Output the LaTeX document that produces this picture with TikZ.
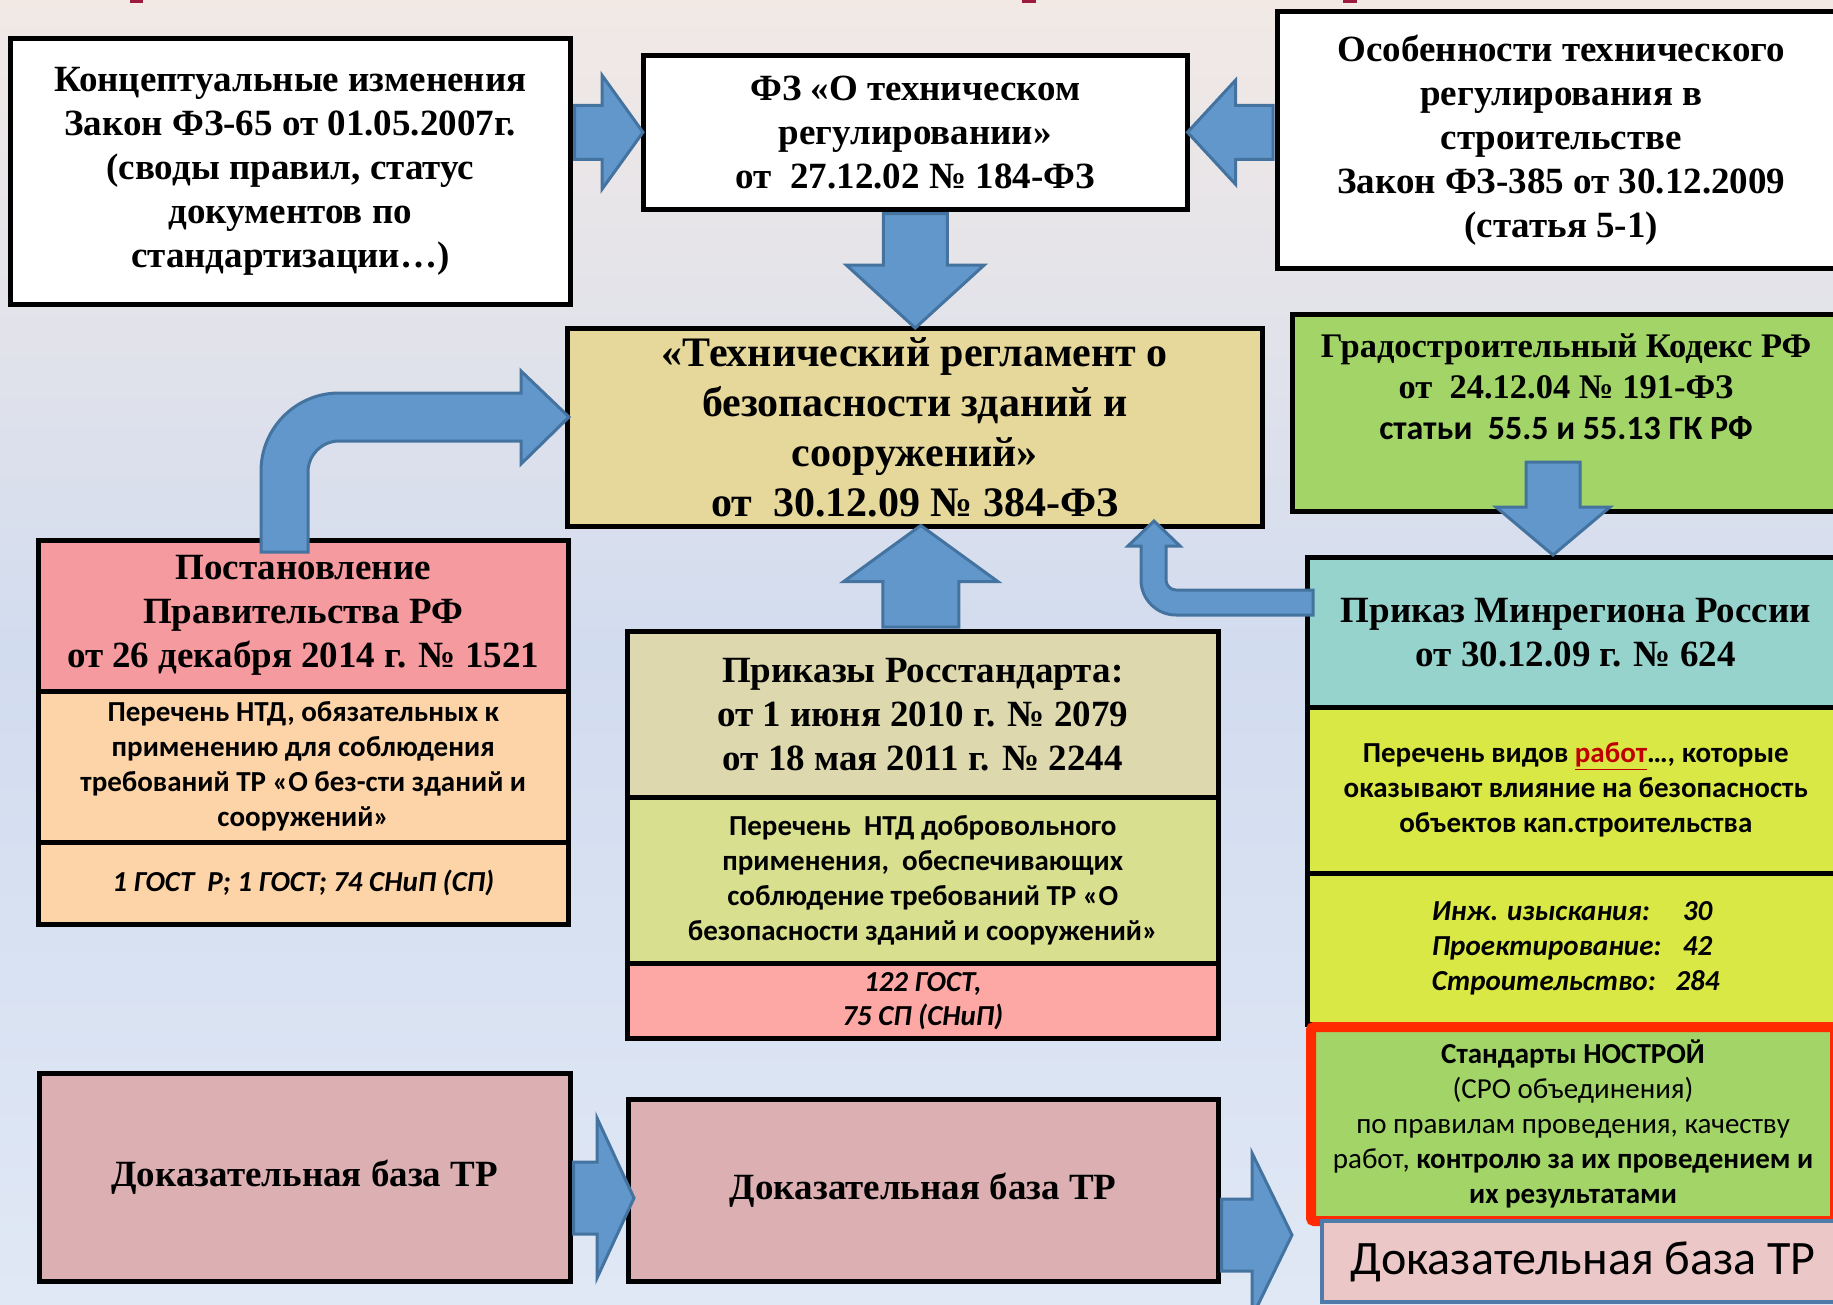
\documentclass[tikz,border=0pt]{standalone}
\usepackage{fontspec}
\setmainfont{Liberation Serif}
\newfontfamily\carl{Carlito}
\usetikzlibrary{calc}
\definecolor{bgtop}{HTML}{F2E9E5}
\definecolor{bgmid}{HTML}{D2DCEF}
\definecolor{bgbot}{HTML}{E0E8F5}
\definecolor{tan}{HTML}{E6D89B}
\definecolor{grn}{HTML}{A2D468}
\definecolor{teal}{HTML}{96D3CC}
\definecolor{yel}{HTML}{D9E845}
\definecolor{pinkG}{HTML}{F59A9E}
\definecolor{peach}{HTML}{FDD4A8}
\definecolor{beige}{HTML}{DED8AE}
\definecolor{lgreen}{HTML}{D8DF8F}
\definecolor{salmon}{HTML}{FEA8A5}
\definecolor{dusty}{HTML}{DCB0B2}
\definecolor{kpink}{HTML}{EBC7C7}
\definecolor{kblue}{HTML}{4F7AAA}
\definecolor{arrfill}{HTML}{6197CB}
\definecolor{arrdraw}{HTML}{44739F}
\definecolor{nred}{HTML}{FF2A00}
\definecolor{rabred}{HTML}{C00000}
\definecolor{titlered}{HTML}{9B1B3F}
\newcommand\blockarr[5]{%
  \coordinate (bam) at ($(#2)!#5pt!(#1)$);
  \draw[blockarrow] ($(#1)!#3pt!90:(#2)$) -- ($(bam)!#3pt!90:(#2)$) -- ($(bam)!#4pt!90:(#2)$) -- (#2)
    -- ($(bam)!#4pt!-90:(#2)$) -- ($(bam)!#3pt!-90:(#2)$) -- ($(#1)!#3pt!-90:(#2)$) -- cycle;}
\begin{document}
\begin{tikzpicture}[x=1pt,y=-1pt,
  box/.style={draw=black,line width=4.5pt,inner sep=0pt,anchor=north west,align=center},
  serifbig/.style={font=\fontsize{37}{44}\selectfont\bfseries},
  serifmain/.style={font=\fontsize{42}{50}\selectfont\bfseries},
  calb/.style={font=\carl\fontsize{29}{35}\selectfont\bfseries},
  calbi/.style={font=\carl\fontsize{29}{34}\selectfont\bfseries\itshape},
  calr/.style={font=\carl\fontsize{29}{35}\selectfont},
  blockarrow/.style={fill=arrfill,draw=arrdraw,line width=3pt,line join=miter}]
\useasboundingbox (0,0) rectangle (1833,1304);
\clip (0,0) rectangle (1833,1304);
\shade[top color=bgtop,bottom color=bgbot,middle color=bgmid] (0,0) rectangle (1833,1304);
% title fragments
\fill[titlered] (130,0) rectangle (143,2.5);
\fill[titlered] (1022,0) rectangle (1036,2.5);
\fill[titlered] (1343,0) rectangle (1357,2.5);

% top row
\node[box,fill=white,serifbig,minimum width=560pt,minimum height=266pt] (A) at (8,36)
  {Концептуальные изменения\\Закон ФЗ-65 от 01.05.2007г.\\(своды правил, статус\\документов по\\стандартизации…)};
\node[box,fill=white,serifbig,minimum width=544pt,minimum height=154pt] (B) at (641,53)
  {ФЗ «О техническом\\регулировании»\\от~ 27.12.02 № 184-ФЗ};
\node[box,fill=white,serifbig,minimum width=568pt,minimum height=257pt] (C) at (1275,9)
  {Особенности технического\\регулирования в\\строительстве\\Закон ФЗ-385 от 30.12.2009\\(статья 5-1)};

% main box
\node[box,fill=tan,serifmain,minimum width=695pt,minimum height=198pt] (D) at (565,326)
  {«Технический регламент о\\безопасности зданий и\\сооружений»\\от~ 30.12.09 № 384-ФЗ};

% right column
\node[box,fill=grn,minimum width=552pt,minimum height=197pt] (E) at (1290,312) {};
\node[align=center,font=\fontsize{34.5}{41}\selectfont\bfseries] (Et) at (1566,387)
  {Градостроительный Кодекс РФ\\от~ 24.12.04 № 191-ФЗ\\{\carl\fontsize{34}{41}\selectfont\bfseries статьи~ 55.5 и 55.13 ГК РФ}};
\node[box,fill=teal,serifbig,minimum width=537pt,minimum height=150pt] (F) at (1305,555)
  {Приказ Минрегиона России\\от 30.12.09 г. № 624};
\node[box,fill=yel,calb,minimum width=537pt,minimum height=166pt] (F1) at (1305,705)
  {Перечень видов \textcolor{rabred}{\underline{работ}}…, которые\\оказывают влияние на безопасность\\объектов кап.строительства};
\node[box,fill=yel,minimum width=537pt,minimum height=151pt] (F2) at (1305,871)
  {\carl\fontsize{29}{35}\selectfont\bfseries\itshape
   \begin{tabular}{@{}l@{\hspace{14pt}}c@{}}
   Инж. изыскания: & 30\\
   Проектирование: & 42\\
   Строительство: & 284
   \end{tabular}};
\node[box,draw=nred,line width=10pt,rounded corners=3pt,fill=grn,calr,minimum width=524pt,minimum height=194pt] (N) at (1306,1022)
  {{\bfseries Стандарты НОСТРОЙ}\\(СРО объединения)\\по правилам проведения, качеству\\работ, {\bfseries контролю за их проведением и}\\{\bfseries их результатами}};
\node[box,draw=kblue,line width=4pt,fill=kpink,font=\carl\fontsize{48}{54}\selectfont,minimum width=522pt,minimum height=81pt] (K) at (1320,1219)
  {Доказательная база ТР};

% left column
\node[box,fill=pinkG,serifbig,minimum width=530pt,minimum height=151pt] (G0) at (36,538)
  {Постановление\\Правительства РФ\\от 26 декабря 2014 г. № 1521};
\node[box,fill=peach,calb,minimum width=530pt,minimum height=151pt] (G1) at (36,689)
  {Перечень НТД, обязательных к\\применению для соблюдения\\требований ТР «О без-сти зданий и\\сооружений»};
\node[box,fill=peach,calbi,minimum width=530pt,minimum height=82pt] (G2) at (36,840)
  {1 ГОСТ~~Р; 1 ГОСТ; 74 СНиП (СП)};

% middle column
\node[box,fill=beige,serifbig,minimum width=591pt,minimum height=166pt] (H0) at (625,629)
  {Приказы Росстандарта:\\от 1 июня 2010 г. № 2079\\от 18 мая 2011 г. № 2244};
\node[box,fill=lgreen,calb,minimum width=591pt,minimum height=166pt] (H1) at (625,795)
  {Перечень~ НТД добровольного\\применения,~ обеспечивающих\\соблюдение требований ТР «О\\безопасности зданий и сооружений»};
\node[box,fill=salmon,calbi,minimum width=591pt,minimum height=75pt] (H2) at (625,961)
  {122 ГОСТ,\\75 СП (СНиП)};

% bottom row
\node[box,fill=dusty,serifbig,minimum width=531pt,minimum height=208pt] (I) at (37,1071)
  {Доказательная база ТР};
\node[box,fill=dusty,serifbig,minimum width=590pt,minimum height=182pt] (J) at (626,1097)
  {Доказательная база ТР};

% straight block arrows
\coordinate (abS) at ($(A.east |- B.west)+(2,0)$);
\coordinate (abE) at ($(B.west)+(2,0)$);
\blockarr{abS}{abE}{27}{57}{41}
\coordinate (cbS) at ($(C.west |- B.east)+(-2,0)$);
\coordinate (cbE) at ($(B.east)+(-2,0)$);
\blockarr{cbS}{cbE}{27}{52}{48}
\coordinate (bdS) at ($(B.south)+(0,2)$);
\coordinate (bdE) at ($(B.south |- D.north)+(0,2)$);
\blockarr{bdS}{bdE}{32}{69}{63}
\coordinate (hdS) at ($(H0.north)+(-2,-2)$);
\coordinate (hdE) at ($(H0.north |- D.south)+(-2,-3)$);
\blockarr{hdS}{hdE}{38}{77}{56}
\coordinate (efS) at (1553,462);
\coordinate (efE) at (efS |- F.north);
\blockarr{efS}{efE}{27}{57}{48}
\coordinate (ijS) at ($(I.east |- 0,1198)+(1,0)$);
\coordinate (ijE) at ($(J.west |- 0,1198)+(8,0)$);
\blockarr{ijS}{ijE}{36}{80}{37}
\coordinate (jkS) at ($(J.east |- 0,1235)+(1,0)$);
\coordinate (jkE) at ($(K.west |- 0,1235)+(-28,0)$);
\blockarr{jkS}{jkE}{36}{82}{40}

% bent arrow G -> D
\coordinate (gdS) at (284.5,552);
\draw[blockarrow] (gdS) ++(-23.5,0) -- ++(0,-81)
  .. controls +(0,-43) and +(-43,0) .. ++(78,-78)
  -- ++(182,0) -- ++(0,-22) -- ++(48,46) -- ++(-48,47) -- ++(0,-23) -- ++(-182,0)
  .. controls +(-17,0) and +(0,-17) .. ++(-31,31)
  -- ++(0,80) -- cycle;

% bent arrow F -> D
\coordinate (fdS) at ($(F.west |- 0,602.5)+(8,0)$);
\draw[blockarrow] (fdS) ++(0,-12.5) -- ++(-137,0)
  .. controls +(-5.5,0) and +(0,5.5) .. ++(-10,-10)
  -- ++(0,-34) -- ++(14,0) -- ++(-26,-25) -- ++(-26,25) -- ++(13,0) -- ++(0,34)
  .. controls +(0,19.3) and +(-19.3,0) .. ++(35,35)
  -- ++(137,0) -- cycle;
\end{tikzpicture}
\end{document}
